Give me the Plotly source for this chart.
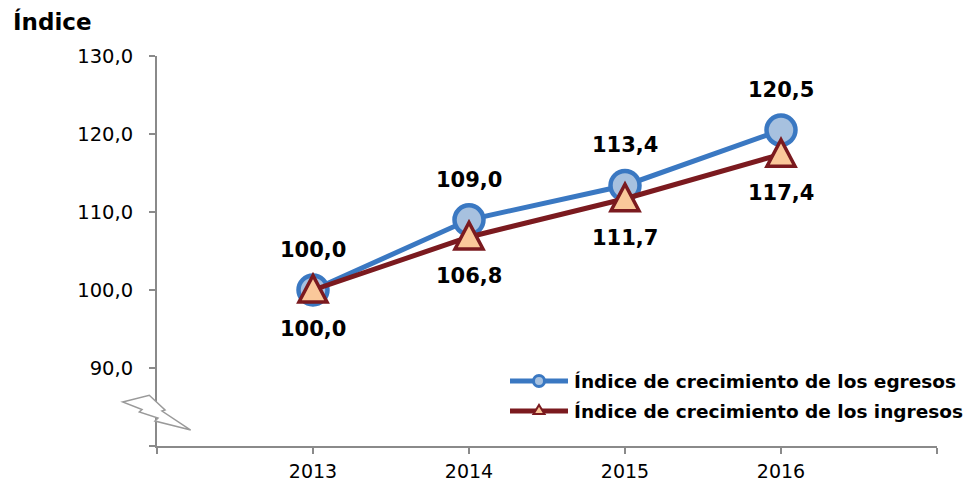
import plotly.graph_objects as go

# Chart data
years = [2013, 2014, 2015, 2016]
egresos = [100.0, 109.0, 113.4, 120.5]
ingresos = [100.0, 106.8, 111.7, 117.4]
serie_egresos = "Índice de crecimiento de los egresos"
serie_ingresos = "Índice de crecimiento de los ingresos"
y_ticks = [80, 90, 100, 110, 120, 130]
y_tick_text = ["", "90,0", "100,0", "110,0", "120,0", "130,0"]
x_ticks = [2012, 2013, 2014, 2015, 2016, 2017]
x_tick_text = ["", "2013", "2014", "2015", "2016", ""]

FONT = "DejaVu Sans"
BLUE = "#3A78C2"
BLUE_FILL = "#A7C1DF"
MAROON = "#7B1A1F"
PEACH = "#FAC89A"
AXIS = "#8A8A8A"

W, H = 965, 487
ML, MR, MT, MB = 157, 28, 56, 41
PW, PH = W - ML - MR, H - MT - MB


def px(x):
    return (x - ML) / PW


def py(y):
    return (H - MB - y) / PH


def fmt(v):
    return f"{v:.1f}".replace(".", ",")


fig = go.Figure()

fig.add_trace(go.Scatter(
    x=years, y=egresos, mode="lines+markers", name=serie_egresos,
    line=dict(color=BLUE, width=5),
    marker=dict(symbol="circle", size=29, color=BLUE_FILL,
                line=dict(color=BLUE, width=4.5)),
    showlegend=False, hoverinfo="skip",
))
fig.add_trace(go.Scatter(
    x=years, y=ingresos, mode="lines", name=serie_ingresos,
    line=dict(color=MAROON, width=5),
    showlegend=False, hoverinfo="skip",
))

shapes = []
# triangle markers for the income series
for yr, v in zip(years, ingresos):
    shapes.append(dict(
        type="path", xref="x", yref="y", xsizemode="pixel", ysizemode="pixel",
        xanchor=yr, yanchor=v, path="M-14,-12 L14,-12 L0,14.5 Z",
        fillcolor=PEACH, line=dict(color=MAROON, width=3.5), layer="above",
    ))

# axis break glyph on the value axis
brk = [(122.7, 402.0), (149.3, 395.3), (165.0, 410.0), (162.0, 411.0),
       (190.7, 430.0), (155.0, 421.0), (158.0, 418.0), (139.3, 412.0),
       (142.0, 409.5)]
path = "M" + " L".join(f"{px(a):.4f},{py(b):.4f}" for a, b in brk) + " Z"
shapes.append(dict(type="path", xref="paper", yref="paper", path=path,
                   fillcolor="white", line=dict(color="#9A9A9A", width=1.5),
                   layer="above"))

# legend glyphs
leg_y = [381, 411]
for (yy, col) in zip(leg_y, [BLUE, MAROON]):
    shapes.append(dict(type="line", xref="paper", yref="paper",
                       x0=px(510), x1=px(568), y0=py(yy), y1=py(yy),
                       line=dict(color=col, width=5), layer="above"))
shapes.append(dict(type="circle", xref="paper", yref="paper",
                   xsizemode="pixel", ysizemode="pixel",
                   xanchor=px(539), yanchor=py(leg_y[0]),
                   x0=-5.5, x1=5.5, y0=-5.5, y1=5.5,
                   fillcolor=BLUE_FILL, line=dict(color=BLUE, width=3),
                   layer="above"))
shapes.append(dict(type="path", xref="paper", yref="paper",
                   xsizemode="pixel", ysizemode="pixel",
                   xanchor=px(539), yanchor=py(leg_y[1]),
                   path="M-5.5,-3 L5.5,-3 L0,6 Z",
                   fillcolor=PEACH, line=dict(color=MAROON, width=2),
                   layer="above"))

annotations = []
for yr, v in zip(years, egresos):
    annotations.append(dict(x=yr, y=v, text=fmt(v), showarrow=False,
                            yshift=40, font=dict(family=FONT, size=21,
                                                 color="black", weight="bold")))
for yr, v in zip(years, ingresos):
    annotations.append(dict(x=yr, y=v, text=fmt(v), showarrow=False,
                            yshift=-39, font=dict(family=FONT, size=21,
                                                  color="black", weight="bold")))
for yy, name in zip(leg_y, [serie_egresos, serie_ingresos]):
    annotations.append(dict(x=px(572), y=py(yy), xref="paper", yref="paper",
                            xanchor="left", yanchor="middle", text=name,
                            showarrow=False,
                            font=dict(family=FONT, size=18.5, color="black",
                                      weight="bold")))
annotations.append(dict(x=px(11), y=py(21), xref="paper", yref="paper",
                        xanchor="left", yanchor="middle", text="Índice",
                        showarrow=False,
                        font=dict(family=FONT, size=23, color="black",
                                  weight="bold")))

axis_common = dict(showgrid=False, zeroline=False, showline=True,
                   linecolor=AXIS, linewidth=2, ticks="outside", ticklen=6,
                   tickwidth=2, tickcolor=AXIS, automargin=False)

fig.update_layout(
    template="none",
    width=W, height=H,
    margin=dict(l=ML, r=MR, t=MT, b=MB, autoexpand=False),
    paper_bgcolor="white", plot_bgcolor="white",
    font=dict(family=FONT, size=19, color="black"),
    shapes=shapes, annotations=annotations, showlegend=False,
    xaxis=dict(range=[2012, 2017], tickvals=x_ticks, ticktext=x_tick_text,
               ticklabelstandoff=1,
               tickfont=dict(family=FONT, size=19, color="black"),
               **axis_common),
    yaxis=dict(range=[80, 130], tickvals=y_ticks, ticktext=y_tick_text,
               ticklabelstandoff=12,
               tickfont=dict(family=FONT, size=19.5, color="black"),
               **axis_common),
)

fig.write_html("out.html")
